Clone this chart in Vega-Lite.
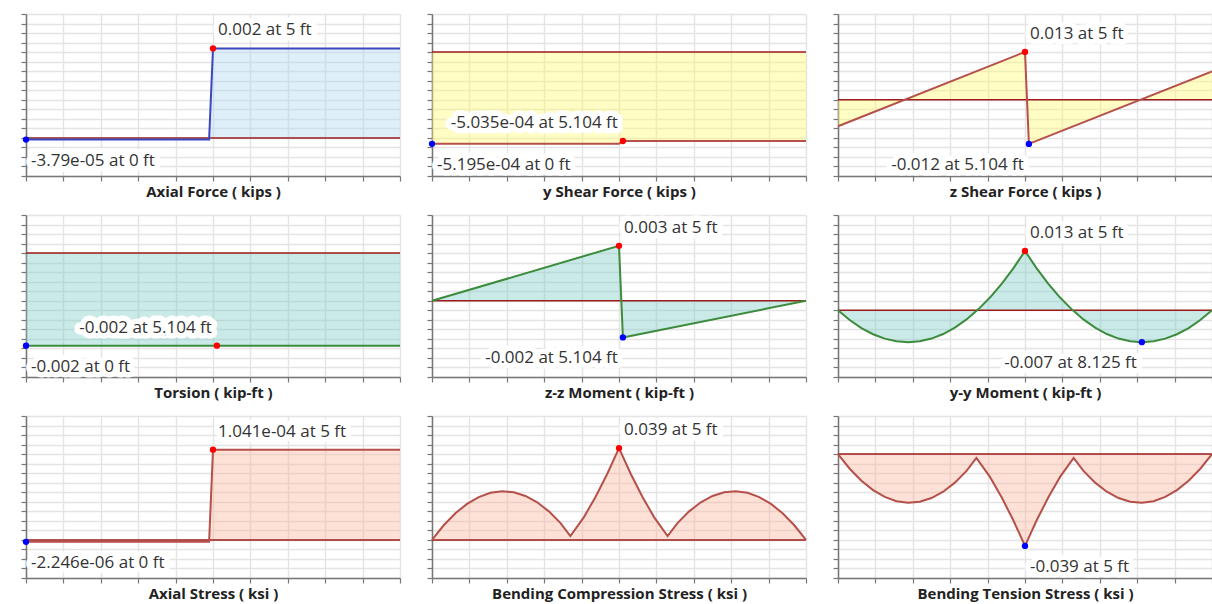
{
  "$schema": "https://vega.github.io/schema/vega-lite/v6.json",
  "background": "white",
  "padding": {"left": 20, "top": 13, "right": 0, "bottom": 0},
  "datasets": {
    "curves": [
      {"panel": "af", "x": 0, "y": -0.0000379},
      {"panel": "af", "x": 4.896, "y": -0.0000379},
      {"panel": "af", "x": 5, "y": 0.002},
      {"panel": "af", "x": 10, "y": 0.002},
      {"panel": "vy", "x": 0, "y": -0.0005195},
      {"panel": "vy", "x": 5, "y": -0.0005195},
      {"panel": "vy", "x": 5.104, "y": -0.0005035},
      {"panel": "vy", "x": 10, "y": -0.0005035},
      {"panel": "vz", "x": 0, "y": -0.0072},
      {"panel": "vz", "x": 5, "y": 0.013},
      {"panel": "vz", "x": 5.104, "y": -0.012},
      {"panel": "vz", "x": 10, "y": 0.0077},
      {"panel": "t", "x": 0, "y": -0.002},
      {"panel": "t", "x": 10, "y": -0.002},
      {"panel": "mz", "x": 0, "y": 0},
      {"panel": "mz", "x": 5, "y": 0.003},
      {"panel": "mz", "x": 5.104, "y": -0.002},
      {"panel": "mz", "x": 10, "y": 0},
      {"panel": "my", "x": 0, "y": 0},
      {"panel": "my", "x": 0.3125, "y": -0.00214},
      {"panel": "my", "x": 0.625, "y": -0.00389},
      {"panel": "my", "x": 0.9375, "y": -0.00525},
      {"panel": "my", "x": 1.25, "y": -0.00622},
      {"panel": "my", "x": 1.5625, "y": -0.00681},
      {"panel": "my", "x": 1.875, "y": -0.007},
      {"panel": "my", "x": 2.1875, "y": -0.0068},
      {"panel": "my", "x": 2.5, "y": -0.0062},
      {"panel": "my", "x": 2.8125, "y": -0.0052},
      {"panel": "my", "x": 3.125, "y": -0.0038},
      {"panel": "my", "x": 3.4375, "y": -0.002},
      {"panel": "my", "x": 3.75, "y": 0.0002},
      {"panel": "my", "x": 4.0625, "y": 0.0028},
      {"panel": "my", "x": 4.375, "y": 0.0058},
      {"panel": "my", "x": 4.6875, "y": 0.0092},
      {"panel": "my", "x": 5, "y": 0.013},
      {"panel": "my", "x": 5.3125, "y": 0.0092},
      {"panel": "my", "x": 5.625, "y": 0.0058},
      {"panel": "my", "x": 5.9375, "y": 0.0028},
      {"panel": "my", "x": 6.25, "y": 0.0002},
      {"panel": "my", "x": 6.5625, "y": -0.002},
      {"panel": "my", "x": 6.875, "y": -0.0038},
      {"panel": "my", "x": 7.1875, "y": -0.0052},
      {"panel": "my", "x": 7.5, "y": -0.0062},
      {"panel": "my", "x": 7.8125, "y": -0.0068},
      {"panel": "my", "x": 8.125, "y": -0.007},
      {"panel": "my", "x": 8.4375, "y": -0.00681},
      {"panel": "my", "x": 8.75, "y": -0.00622},
      {"panel": "my", "x": 9.0625, "y": -0.00525},
      {"panel": "my", "x": 9.375, "y": -0.00389},
      {"panel": "my", "x": 9.6875, "y": -0.00214},
      {"panel": "my", "x": 10, "y": 0},
      {"panel": "sa", "x": 0, "y": -0.000002246},
      {"panel": "sa", "x": 4.896, "y": -0.000002246},
      {"panel": "sa", "x": 5, "y": 0.0001041},
      {"panel": "sa", "x": 10, "y": 0.0001041},
      {"panel": "sbc", "x": 0, "y": 0},
      {"panel": "sbc", "x": 0.3125, "y": 0.00621},
      {"panel": "sbc", "x": 0.625, "y": 0.01131},
      {"panel": "sbc", "x": 0.9375, "y": 0.01531},
      {"panel": "sbc", "x": 1.25, "y": 0.0182},
      {"panel": "sbc", "x": 1.5625, "y": 0.02},
      {"panel": "sbc", "x": 1.875, "y": 0.02068},
      {"panel": "sbc", "x": 2.1875, "y": 0.02024},
      {"panel": "sbc", "x": 2.5, "y": 0.01867},
      {"panel": "sbc", "x": 2.8125, "y": 0.01597},
      {"panel": "sbc", "x": 3.125, "y": 0.01212},
      {"panel": "sbc", "x": 3.4375, "y": 0.00715},
      {"panel": "sbc", "x": 3.7, "y": 0.0016},
      {"panel": "sbc", "x": 4.0625, "y": 0.00968},
      {"panel": "sbc", "x": 4.375, "y": 0.01833},
      {"panel": "sbc", "x": 4.6875, "y": 0.02813},
      {"panel": "sbc", "x": 5, "y": 0.039},
      {"panel": "sbc", "x": 5.3125, "y": 0.02813},
      {"panel": "sbc", "x": 5.625, "y": 0.01833},
      {"panel": "sbc", "x": 5.9375, "y": 0.00968},
      {"panel": "sbc", "x": 6.3, "y": 0.0016},
      {"panel": "sbc", "x": 6.5625, "y": 0.00715},
      {"panel": "sbc", "x": 6.875, "y": 0.01212},
      {"panel": "sbc", "x": 7.1875, "y": 0.01597},
      {"panel": "sbc", "x": 7.5, "y": 0.01867},
      {"panel": "sbc", "x": 7.8125, "y": 0.02024},
      {"panel": "sbc", "x": 8.125, "y": 0.02068},
      {"panel": "sbc", "x": 8.4375, "y": 0.02},
      {"panel": "sbc", "x": 8.75, "y": 0.0182},
      {"panel": "sbc", "x": 9.0625, "y": 0.01531},
      {"panel": "sbc", "x": 9.375, "y": 0.01131},
      {"panel": "sbc", "x": 9.6875, "y": 0.00621},
      {"panel": "sbc", "x": 10, "y": 0},
      {"panel": "sbt", "x": 0, "y": 0},
      {"panel": "sbt", "x": 0.3125, "y": -0.00621},
      {"panel": "sbt", "x": 0.625, "y": -0.01131},
      {"panel": "sbt", "x": 0.9375, "y": -0.01531},
      {"panel": "sbt", "x": 1.25, "y": -0.0182},
      {"panel": "sbt", "x": 1.5625, "y": -0.02},
      {"panel": "sbt", "x": 1.875, "y": -0.02068},
      {"panel": "sbt", "x": 2.1875, "y": -0.02024},
      {"panel": "sbt", "x": 2.5, "y": -0.01867},
      {"panel": "sbt", "x": 2.8125, "y": -0.01597},
      {"panel": "sbt", "x": 3.125, "y": -0.01212},
      {"panel": "sbt", "x": 3.4375, "y": -0.00715},
      {"panel": "sbt", "x": 3.7, "y": -0.0016},
      {"panel": "sbt", "x": 4.0625, "y": -0.00968},
      {"panel": "sbt", "x": 4.375, "y": -0.01833},
      {"panel": "sbt", "x": 4.6875, "y": -0.02813},
      {"panel": "sbt", "x": 5, "y": -0.039},
      {"panel": "sbt", "x": 5.3125, "y": -0.02813},
      {"panel": "sbt", "x": 5.625, "y": -0.01833},
      {"panel": "sbt", "x": 5.9375, "y": -0.00968},
      {"panel": "sbt", "x": 6.3, "y": -0.0016},
      {"panel": "sbt", "x": 6.5625, "y": -0.00715},
      {"panel": "sbt", "x": 6.875, "y": -0.01212},
      {"panel": "sbt", "x": 7.1875, "y": -0.01597},
      {"panel": "sbt", "x": 7.5, "y": -0.01867},
      {"panel": "sbt", "x": 7.8125, "y": -0.02024},
      {"panel": "sbt", "x": 8.125, "y": -0.02068},
      {"panel": "sbt", "x": 8.4375, "y": -0.02},
      {"panel": "sbt", "x": 8.75, "y": -0.0182},
      {"panel": "sbt", "x": 9.0625, "y": -0.01531},
      {"panel": "sbt", "x": 9.375, "y": -0.01131},
      {"panel": "sbt", "x": 9.6875, "y": -0.00621},
      {"panel": "sbt", "x": 10, "y": 0}
    ],
    "extremes": [
      {"panel": "af", "kind": "max", "x": 5, "y": 0.002, "label": "0.002 at 5 ft"},
      {"panel": "af", "kind": "min", "x": 0, "y": -0.0000379, "label": "-3.79e-05 at 0 ft"},
      {"panel": "vy", "kind": "max", "x": 5.104, "y": -0.0005035, "label": "-5.035e-04 at 5.104 ft"},
      {"panel": "vy", "kind": "min", "x": 0, "y": -0.0005195, "label": "-5.195e-04 at 0 ft"},
      {"panel": "vz", "kind": "max", "x": 5, "y": 0.013, "label": "0.013 at 5 ft"},
      {"panel": "vz", "kind": "min", "x": 5.104, "y": -0.012, "label": "-0.012 at 5.104 ft"},
      {"panel": "t", "kind": "max", "x": 5.104, "y": -0.002, "label": "-0.002 at 5.104 ft"},
      {"panel": "t", "kind": "min", "x": 0, "y": -0.002, "label": "-0.002 at 0 ft"},
      {"panel": "mz", "kind": "max", "x": 5, "y": 0.003, "label": "0.003 at 5 ft"},
      {"panel": "mz", "kind": "min", "x": 5.104, "y": -0.002, "label": "-0.002 at 5.104 ft"},
      {"panel": "my", "kind": "max", "x": 5, "y": 0.013, "label": "0.013 at 5 ft"},
      {"panel": "my", "kind": "min", "x": 8.125, "y": -0.007, "label": "-0.007 at 8.125 ft"},
      {"panel": "sa", "kind": "max", "x": 5, "y": 0.0001041, "label": "1.041e-04 at 5 ft"},
      {"panel": "sa", "kind": "min", "x": 0, "y": -0.000002246, "label": "-2.246e-06 at 0 ft"},
      {"panel": "sbc", "kind": "max", "x": 5, "y": 0.039, "label": "0.039 at 5 ft"},
      {"panel": "sbt", "kind": "min", "x": 5, "y": -0.039, "label": "-0.039 at 5 ft"}
    ]
  },
  "columns": 3,
  "spacing": {"row": 14, "column": 22},
  "concat": [
    {
      "width": 374, "height": 162,
      "encoding": {
        "x": {"field": "x", "type": "quantitative", "scale": {"domain": [0, 10], "nice": false}, "axis": {"values": [0,1,2,3,4,5,6,7,8,9,10], "title": "Axial Force ( kips )"}},
        "y": {"field": "y", "type": "quantitative", "scale": {"domain": [-0.000852, 0.002769], "nice": false, "zero": false}, "axis": {"title": null, "values": [-0.000852, -0.000639, -0.000426, -0.000213, 0, 0.000213, 0.000426, 0.000639, 0.000852, 0.001065, 0.001278, 0.001491, 0.001704, 0.001917, 0.00213, 0.002343, 0.002556, 0.002769]}}
      },
      "layer": [
        {"data": {"name": "curves"}, "transform": [{"filter": "datum.panel === 'af'"}], "mark": {"type": "area", "color": "#acd7f2", "opacity": 0.4}, "encoding": {"y2": {"datum": 0}}},
        {"data": {"name": "curves"}, "transform": [{"filter": "datum.panel === 'af'"}], "mark": {"type": "line", "color": "#9b1c1c", "strokeWidth": 1.5}, "encoding": {"y": {"datum": 0, "type": "quantitative"}}},
        {"data": {"name": "curves"}, "transform": [{"filter": "datum.panel === 'af'"}], "mark": {"type": "line", "color": "#3c46be", "strokeWidth": 2}, "encoding": {}},
        {"data": {"name": "extremes"}, "transform": [{"filter": "datum.panel === 'af'"}], "mark": {"type": "point", "filled": true, "size": 40, "opacity": 1}, "encoding": {"color": {"field": "kind", "type": "nominal", "scale": {"domain": ["max", "min"], "range": ["#ff0000", "#0000ff"]}, "legend": null}}},
        {"data": {"name": "extremes"}, "transform": [{"filter": "datum.panel === 'af'"}], "mark": {"type": "text", "baseline": "middle", "align": {"expr": "datum.x > 5 ? 'right' : 'left'"}, "dx": {"expr": "datum.x > 5 ? -5 : 5"}, "dy": {"expr": "datum.kind === 'max' ? -18 : 21"}, "fill": "white", "stroke": "white", "strokeWidth": 11, "strokeJoin": "round"}, "encoding": {"text": {"field": "label"}}},
        {"data": {"name": "extremes"}, "transform": [{"filter": "datum.panel === 'af'"}], "mark": {"type": "text", "baseline": "middle", "align": {"expr": "datum.x > 5 ? 'right' : 'left'"}, "dx": {"expr": "datum.x > 5 ? -5 : 5"}, "dy": {"expr": "datum.kind === 'max' ? -18 : 21"}}, "encoding": {"text": {"field": "label"}}}
      ]
    },
    {
      "width": 374, "height": 162,
      "encoding": {
        "x": {"field": "x", "type": "quantitative", "scale": {"domain": [0, 10], "nice": false}, "axis": {"values": [0,1,2,3,4,5,6,7,8,9,10], "title": "y Shear Force ( kips )"}},
        "y": {"field": "y", "type": "quantitative", "scale": {"domain": [-0.000702, 0.000216], "nice": false, "zero": false}, "axis": {"title": null, "values": [-0.000702, -0.000648, -0.000594, -0.00054, -0.000486, -0.000432, -0.000378, -0.000324, -0.00027, -0.000216, -0.000162, -0.000108, -0.000054, 0, 0.000054, 0.000108, 0.000162, 0.000216]}}
      },
      "layer": [
        {"data": {"name": "curves"}, "transform": [{"filter": "datum.panel === 'vy'"}], "mark": {"type": "area", "color": "#fff76b", "opacity": 0.4}, "encoding": {"y2": {"datum": 0}}},
        {"data": {"name": "curves"}, "transform": [{"filter": "datum.panel === 'vy'"}], "mark": {"type": "line", "color": "#9b1c1c", "strokeWidth": 1.5}, "encoding": {"y": {"datum": 0, "type": "quantitative"}}},
        {"data": {"name": "curves"}, "transform": [{"filter": "datum.panel === 'vy'"}], "mark": {"type": "line", "color": "#b5504a", "strokeWidth": 2}, "encoding": {}},
        {"data": {"name": "extremes"}, "transform": [{"filter": "datum.panel === 'vy'"}], "mark": {"type": "point", "filled": true, "size": 40, "opacity": 1}, "encoding": {"color": {"field": "kind", "type": "nominal", "scale": {"domain": ["max", "min"], "range": ["#ff0000", "#0000ff"]}, "legend": null}}},
        {"data": {"name": "extremes"}, "transform": [{"filter": "datum.panel === 'vy'"}], "mark": {"type": "text", "baseline": "middle", "align": {"expr": "datum.x > 5 ? 'right' : 'left'"}, "dx": {"expr": "datum.x > 5 ? -5 : 5"}, "dy": {"expr": "datum.kind === 'max' ? -18 : 21"}, "fill": "white", "stroke": "white", "strokeWidth": 11, "strokeJoin": "round"}, "encoding": {"text": {"field": "label"}}},
        {"data": {"name": "extremes"}, "transform": [{"filter": "datum.panel === 'vy'"}], "mark": {"type": "text", "baseline": "middle", "align": {"expr": "datum.x > 5 ? 'right' : 'left'"}, "dx": {"expr": "datum.x > 5 ? -5 : 5"}, "dy": {"expr": "datum.kind === 'max' ? -18 : 21"}}, "encoding": {"text": {"field": "label"}}}
      ]
    },
    {
      "width": 374, "height": 162,
      "encoding": {
        "x": {"field": "x", "type": "quantitative", "scale": {"domain": [0, 10], "nice": false}, "axis": {"values": [0,1,2,3,4,5,6,7,8,9,10], "title": "z Shear Force ( kips )"}},
        "y": {"field": "y", "type": "quantitative", "scale": {"domain": [-0.02072, 0.02331], "nice": false, "zero": false}, "axis": {"title": null, "values": [-0.02072, -0.01813, -0.01554, -0.01295, -0.01036, -0.00777, -0.00518, -0.00259, 0, 0.00259, 0.00518, 0.00777, 0.01036, 0.01295, 0.01554, 0.01813, 0.02072, 0.02331]}}
      },
      "layer": [
        {"data": {"name": "curves"}, "transform": [{"filter": "datum.panel === 'vz'"}], "mark": {"type": "area", "color": "#fff76b", "opacity": 0.4}, "encoding": {"y2": {"datum": 0}}},
        {"data": {"name": "curves"}, "transform": [{"filter": "datum.panel === 'vz'"}], "mark": {"type": "line", "color": "#9b1c1c", "strokeWidth": 1.5}, "encoding": {"y": {"datum": 0, "type": "quantitative"}}},
        {"data": {"name": "curves"}, "transform": [{"filter": "datum.panel === 'vz'"}], "mark": {"type": "line", "color": "#b5504a", "strokeWidth": 2}, "encoding": {}},
        {"data": {"name": "extremes"}, "transform": [{"filter": "datum.panel === 'vz'"}], "mark": {"type": "point", "filled": true, "size": 40, "opacity": 1}, "encoding": {"color": {"field": "kind", "type": "nominal", "scale": {"domain": ["max", "min"], "range": ["#ff0000", "#0000ff"]}, "legend": null}}},
        {"data": {"name": "extremes"}, "transform": [{"filter": "datum.panel === 'vz'"}], "mark": {"type": "text", "baseline": "middle", "align": {"expr": "datum.x > 5 ? 'right' : 'left'"}, "dx": {"expr": "datum.x > 5 ? -5 : 5"}, "dy": {"expr": "datum.kind === 'max' ? -18 : 21"}, "fill": "white", "stroke": "white", "strokeWidth": 11, "strokeJoin": "round"}, "encoding": {"text": {"field": "label"}}},
        {"data": {"name": "extremes"}, "transform": [{"filter": "datum.panel === 'vz'"}], "mark": {"type": "text", "baseline": "middle", "align": {"expr": "datum.x > 5 ? 'right' : 'left'"}, "dx": {"expr": "datum.x > 5 ? -5 : 5"}, "dy": {"expr": "datum.kind === 'max' ? -18 : 21"}}, "encoding": {"text": {"field": "label"}}}
      ]
    },
    {
      "width": 374, "height": 162,
      "encoding": {
        "x": {"field": "x", "type": "quantitative", "scale": {"domain": [0, 10], "nice": false}, "axis": {"values": [0,1,2,3,4,5,6,7,8,9,10], "title": "Torsion ( kip-ft )"}},
        "y": {"field": "y", "type": "quantitative", "scale": {"domain": [-0.002678, 0.000824], "nice": false, "zero": false}, "axis": {"title": null, "values": [-0.002678, -0.002472, -0.002266, -0.00206, -0.001854, -0.001648, -0.001442, -0.001236, -0.00103, -0.000824, -0.000618, -0.000412, -0.000206, 0, 0.000206, 0.000412, 0.000618, 0.000824]}}
      },
      "layer": [
        {"data": {"name": "curves"}, "transform": [{"filter": "datum.panel === 't'"}], "mark": {"type": "area", "color": "#78cac3", "opacity": 0.4}, "encoding": {"y2": {"datum": 0}}},
        {"data": {"name": "curves"}, "transform": [{"filter": "datum.panel === 't'"}], "mark": {"type": "line", "color": "#9b1c1c", "strokeWidth": 1.5}, "encoding": {"y": {"datum": 0, "type": "quantitative"}}},
        {"data": {"name": "curves"}, "transform": [{"filter": "datum.panel === 't'"}], "mark": {"type": "line", "color": "#3d8b3d", "strokeWidth": 2}, "encoding": {}},
        {"data": {"name": "extremes"}, "transform": [{"filter": "datum.panel === 't'"}], "mark": {"type": "point", "filled": true, "size": 40, "opacity": 1}, "encoding": {"color": {"field": "kind", "type": "nominal", "scale": {"domain": ["max", "min"], "range": ["#ff0000", "#0000ff"]}, "legend": null}}},
        {"data": {"name": "extremes"}, "transform": [{"filter": "datum.panel === 't'"}], "mark": {"type": "text", "baseline": "middle", "align": {"expr": "datum.x > 5 ? 'right' : 'left'"}, "dx": {"expr": "datum.x > 5 ? -5 : 5"}, "dy": {"expr": "datum.kind === 'max' ? -18 : 21"}, "fill": "white", "stroke": "white", "strokeWidth": 11, "strokeJoin": "round"}, "encoding": {"text": {"field": "label"}}},
        {"data": {"name": "extremes"}, "transform": [{"filter": "datum.panel === 't'"}], "mark": {"type": "text", "baseline": "middle", "align": {"expr": "datum.x > 5 ? 'right' : 'left'"}, "dx": {"expr": "datum.x > 5 ? -5 : 5"}, "dy": {"expr": "datum.kind === 'max' ? -18 : 21"}}, "encoding": {"text": {"field": "label"}}}
      ]
    },
    {
      "width": 374, "height": 162,
      "encoding": {
        "x": {"field": "x", "type": "quantitative", "scale": {"domain": [0, 10], "nice": false}, "axis": {"values": [0,1,2,3,4,5,6,7,8,9,10], "title": "z-z Moment ( kip-ft )"}},
        "y": {"field": "y", "type": "quantitative", "scale": {"domain": [-0.00416, 0.00468], "nice": false, "zero": false}, "axis": {"title": null, "values": [-0.00416, -0.00364, -0.00312, -0.0026, -0.00208, -0.00156, -0.00104, -0.00052, 0, 0.00052, 0.00104, 0.00156, 0.00208, 0.0026, 0.00312, 0.00364, 0.00416, 0.00468]}}
      },
      "layer": [
        {"data": {"name": "curves"}, "transform": [{"filter": "datum.panel === 'mz'"}], "mark": {"type": "area", "color": "#78cac3", "opacity": 0.4}, "encoding": {"y2": {"datum": 0}}},
        {"data": {"name": "curves"}, "transform": [{"filter": "datum.panel === 'mz'"}], "mark": {"type": "line", "color": "#9b1c1c", "strokeWidth": 1.5}, "encoding": {"y": {"datum": 0, "type": "quantitative"}}},
        {"data": {"name": "curves"}, "transform": [{"filter": "datum.panel === 'mz'"}], "mark": {"type": "line", "color": "#3d8b3d", "strokeWidth": 2}, "encoding": {}},
        {"data": {"name": "extremes"}, "transform": [{"filter": "datum.panel === 'mz'"}], "mark": {"type": "point", "filled": true, "size": 40, "opacity": 1}, "encoding": {"color": {"field": "kind", "type": "nominal", "scale": {"domain": ["max", "min"], "range": ["#ff0000", "#0000ff"]}, "legend": null}}},
        {"data": {"name": "extremes"}, "transform": [{"filter": "datum.panel === 'mz'"}], "mark": {"type": "text", "baseline": "middle", "align": {"expr": "datum.x > 5 ? 'right' : 'left'"}, "dx": {"expr": "datum.x > 5 ? -5 : 5"}, "dy": {"expr": "datum.kind === 'max' ? -18 : 21"}, "fill": "white", "stroke": "white", "strokeWidth": 11, "strokeJoin": "round"}, "encoding": {"text": {"field": "label"}}},
        {"data": {"name": "extremes"}, "transform": [{"filter": "datum.panel === 'mz'"}], "mark": {"type": "text", "baseline": "middle", "align": {"expr": "datum.x > 5 ? 'right' : 'left'"}, "dx": {"expr": "datum.x > 5 ? -5 : 5"}, "dy": {"expr": "datum.kind === 'max' ? -18 : 21"}}, "encoding": {"text": {"field": "label"}}}
      ]
    },
    {
      "width": 374, "height": 162,
      "encoding": {
        "x": {"field": "x", "type": "quantitative", "scale": {"domain": [0, 10], "nice": false}, "axis": {"values": [0,1,2,3,4,5,6,7,8,9,10], "title": "y-y Moment ( kip-ft )"}},
        "y": {"field": "y", "type": "quantitative", "scale": {"domain": [-0.01463, 0.0209], "nice": false, "zero": false}, "axis": {"title": null, "values": [-0.01463, -0.01254, -0.01045, -0.00836, -0.00627, -0.00418, -0.00209, 0, 0.00209, 0.00418, 0.00627, 0.00836, 0.01045, 0.01254, 0.01463, 0.01672, 0.01881, 0.0209]}}
      },
      "layer": [
        {"data": {"name": "curves"}, "transform": [{"filter": "datum.panel === 'my'"}], "mark": {"type": "area", "color": "#78cac3", "opacity": 0.4}, "encoding": {"y2": {"datum": 0}}},
        {"data": {"name": "curves"}, "transform": [{"filter": "datum.panel === 'my'"}], "mark": {"type": "line", "color": "#9b1c1c", "strokeWidth": 1.5}, "encoding": {"y": {"datum": 0, "type": "quantitative"}}},
        {"data": {"name": "curves"}, "transform": [{"filter": "datum.panel === 'my'"}], "mark": {"type": "line", "color": "#3d8b3d", "strokeWidth": 2}, "encoding": {}},
        {"data": {"name": "extremes"}, "transform": [{"filter": "datum.panel === 'my'"}], "mark": {"type": "point", "filled": true, "size": 40, "opacity": 1}, "encoding": {"color": {"field": "kind", "type": "nominal", "scale": {"domain": ["max", "min"], "range": ["#ff0000", "#0000ff"]}, "legend": null}}},
        {"data": {"name": "extremes"}, "transform": [{"filter": "datum.panel === 'my'"}], "mark": {"type": "text", "baseline": "middle", "align": {"expr": "datum.x > 5 ? 'right' : 'left'"}, "dx": {"expr": "datum.x > 5 ? -5 : 5"}, "dy": {"expr": "datum.kind === 'max' ? -18 : 21"}, "fill": "white", "stroke": "white", "strokeWidth": 11, "strokeJoin": "round"}, "encoding": {"text": {"field": "label"}}},
        {"data": {"name": "extremes"}, "transform": [{"filter": "datum.panel === 'my'"}], "mark": {"type": "text", "baseline": "middle", "align": {"expr": "datum.x > 5 ? 'right' : 'left'"}, "dx": {"expr": "datum.x > 5 ? -5 : 5"}, "dy": {"expr": "datum.kind === 'max' ? -18 : 21"}}, "encoding": {"text": {"field": "label"}}}
      ]
    },
    {
      "width": 374, "height": 162,
      "encoding": {
        "x": {"field": "x", "type": "quantitative", "scale": {"domain": [0, 10], "nice": false}, "axis": {"values": [0,1,2,3,4,5,6,7,8,9,10], "title": "Axial Stress ( ksi )"}},
        "y": {"field": "y", "type": "quantitative", "scale": {"domain": [-0.000044, 0.000143], "nice": false, "zero": false}, "axis": {"title": null, "values": [-0.000044, -0.000033, -0.000022, -0.000011, 0, 0.000011, 0.000022, 0.000033, 0.000044, 0.000055, 0.000066, 0.000077, 0.000088, 0.000099, 0.00011, 0.000121, 0.000132, 0.000143]}}
      },
      "layer": [
        {"data": {"name": "curves"}, "transform": [{"filter": "datum.panel === 'sa'"}], "mark": {"type": "area", "color": "#fab49b", "opacity": 0.4}, "encoding": {"y2": {"datum": 0}}},
        {"data": {"name": "curves"}, "transform": [{"filter": "datum.panel === 'sa'"}], "mark": {"type": "line", "color": "#9b1c1c", "strokeWidth": 1.5}, "encoding": {"y": {"datum": 0, "type": "quantitative"}}},
        {"data": {"name": "curves"}, "transform": [{"filter": "datum.panel === 'sa'"}], "mark": {"type": "line", "color": "#b5504a", "strokeWidth": 2}, "encoding": {}},
        {"data": {"name": "extremes"}, "transform": [{"filter": "datum.panel === 'sa'"}], "mark": {"type": "point", "filled": true, "size": 40, "opacity": 1}, "encoding": {"color": {"field": "kind", "type": "nominal", "scale": {"domain": ["max", "min"], "range": ["#ff0000", "#0000ff"]}, "legend": null}}},
        {"data": {"name": "extremes"}, "transform": [{"filter": "datum.panel === 'sa'"}], "mark": {"type": "text", "baseline": "middle", "align": {"expr": "datum.x > 5 ? 'right' : 'left'"}, "dx": {"expr": "datum.x > 5 ? -5 : 5"}, "dy": {"expr": "datum.kind === 'max' ? -18 : 21"}, "fill": "white", "stroke": "white", "strokeWidth": 11, "strokeJoin": "round"}, "encoding": {"text": {"field": "label"}}},
        {"data": {"name": "extremes"}, "transform": [{"filter": "datum.panel === 'sa'"}], "mark": {"type": "text", "baseline": "middle", "align": {"expr": "datum.x > 5 ? 'right' : 'left'"}, "dx": {"expr": "datum.x > 5 ? -5 : 5"}, "dy": {"expr": "datum.kind === 'max' ? -18 : 21"}}, "encoding": {"text": {"field": "label"}}}
      ]
    },
    {
      "width": 374, "height": 162,
      "encoding": {
        "x": {"field": "x", "type": "quantitative", "scale": {"domain": [0, 10], "nice": false}, "axis": {"values": [0,1,2,3,4,5,6,7,8,9,10], "title": "Bending Compression Stress ( ksi )"}},
        "y": {"field": "y", "type": "quantitative", "scale": {"domain": [-0.0162, 0.05265], "nice": false, "zero": false}, "axis": {"title": null, "values": [-0.0162, -0.01215, -0.0081, -0.00405, 0, 0.00405, 0.0081, 0.01215, 0.0162, 0.02025, 0.0243, 0.02835, 0.0324, 0.03645, 0.0405, 0.04455, 0.0486, 0.05265]}}
      },
      "layer": [
        {"data": {"name": "curves"}, "transform": [{"filter": "datum.panel === 'sbc'"}], "mark": {"type": "area", "color": "#fab49b", "opacity": 0.4}, "encoding": {"y2": {"datum": 0}}},
        {"data": {"name": "curves"}, "transform": [{"filter": "datum.panel === 'sbc'"}], "mark": {"type": "line", "color": "#9b1c1c", "strokeWidth": 1.5}, "encoding": {"y": {"datum": 0, "type": "quantitative"}}},
        {"data": {"name": "curves"}, "transform": [{"filter": "datum.panel === 'sbc'"}], "mark": {"type": "line", "color": "#b5504a", "strokeWidth": 2}, "encoding": {}},
        {"data": {"name": "extremes"}, "transform": [{"filter": "datum.panel === 'sbc'"}], "mark": {"type": "point", "filled": true, "size": 40, "opacity": 1}, "encoding": {"color": {"field": "kind", "type": "nominal", "scale": {"domain": ["max", "min"], "range": ["#ff0000", "#0000ff"]}, "legend": null}}},
        {"data": {"name": "extremes"}, "transform": [{"filter": "datum.panel === 'sbc'"}], "mark": {"type": "text", "baseline": "middle", "align": {"expr": "datum.x > 5 ? 'right' : 'left'"}, "dx": {"expr": "datum.x > 5 ? -5 : 5"}, "dy": {"expr": "datum.kind === 'max' ? -18 : 21"}, "fill": "white", "stroke": "white", "strokeWidth": 11, "strokeJoin": "round"}, "encoding": {"text": {"field": "label"}}},
        {"data": {"name": "extremes"}, "transform": [{"filter": "datum.panel === 'sbc'"}], "mark": {"type": "text", "baseline": "middle", "align": {"expr": "datum.x > 5 ? 'right' : 'left'"}, "dx": {"expr": "datum.x > 5 ? -5 : 5"}, "dy": {"expr": "datum.kind === 'max' ? -18 : 21"}}, "encoding": {"text": {"field": "label"}}}
      ]
    },
    {
      "width": 374, "height": 162,
      "encoding": {
        "x": {"field": "x", "type": "quantitative", "scale": {"domain": [0, 10], "nice": false}, "axis": {"values": [0,1,2,3,4,5,6,7,8,9,10], "title": "Bending Tension Stress ( ksi )"}},
        "y": {"field": "y", "type": "quantitative", "scale": {"domain": [-0.05265, 0.0162], "nice": false, "zero": false}, "axis": {"title": null, "values": [-0.05265, -0.0486, -0.04455, -0.0405, -0.03645, -0.0324, -0.02835, -0.0243, -0.02025, -0.0162, -0.01215, -0.0081, -0.00405, 0, 0.00405, 0.0081, 0.01215, 0.0162]}}
      },
      "layer": [
        {"data": {"name": "curves"}, "transform": [{"filter": "datum.panel === 'sbt'"}], "mark": {"type": "area", "color": "#fab49b", "opacity": 0.4}, "encoding": {"y2": {"datum": 0}}},
        {"data": {"name": "curves"}, "transform": [{"filter": "datum.panel === 'sbt'"}], "mark": {"type": "line", "color": "#9b1c1c", "strokeWidth": 1.5}, "encoding": {"y": {"datum": 0, "type": "quantitative"}}},
        {"data": {"name": "curves"}, "transform": [{"filter": "datum.panel === 'sbt'"}], "mark": {"type": "line", "color": "#b5504a", "strokeWidth": 2}, "encoding": {}},
        {"data": {"name": "extremes"}, "transform": [{"filter": "datum.panel === 'sbt'"}], "mark": {"type": "point", "filled": true, "size": 40, "opacity": 1}, "encoding": {"color": {"field": "kind", "type": "nominal", "scale": {"domain": ["max", "min"], "range": ["#ff0000", "#0000ff"]}, "legend": null}}},
        {"data": {"name": "extremes"}, "transform": [{"filter": "datum.panel === 'sbt'"}], "mark": {"type": "text", "baseline": "middle", "align": {"expr": "datum.x > 5 ? 'right' : 'left'"}, "dx": {"expr": "datum.x > 5 ? -5 : 5"}, "dy": {"expr": "datum.kind === 'max' ? -18 : 21"}, "fill": "white", "stroke": "white", "strokeWidth": 11, "strokeJoin": "round"}, "encoding": {"text": {"field": "label"}}},
        {"data": {"name": "extremes"}, "transform": [{"filter": "datum.panel === 'sbt'"}], "mark": {"type": "text", "baseline": "middle", "align": {"expr": "datum.x > 5 ? 'right' : 'left'"}, "dx": {"expr": "datum.x > 5 ? -5 : 5"}, "dy": {"expr": "datum.kind === 'max' ? -18 : 21"}}, "encoding": {"text": {"field": "label"}}}
      ]
    }
  ],
  "config": {
    "view": {"stroke": null},
    "axis": {
      "labels": false,
      "tickSize": 5,
      "tickColor": "#777777",
      "tickWidth": 1.2,
      "domainColor": "#777777",
      "domainWidth": 1.5,
      "grid": true,
      "gridColor": "#e4e4e4",
      "gridWidth": 1.5,
      "titleFont": "Open Sans",
      "titleFontSize": 15,
      "titleFontWeight": "bold",
      "titleColor": "#222222",
      "titlePadding": 3
    },
    "text": {"font": "Open Sans", "fontSize": 17, "fill": "#333333"}
  }
}
